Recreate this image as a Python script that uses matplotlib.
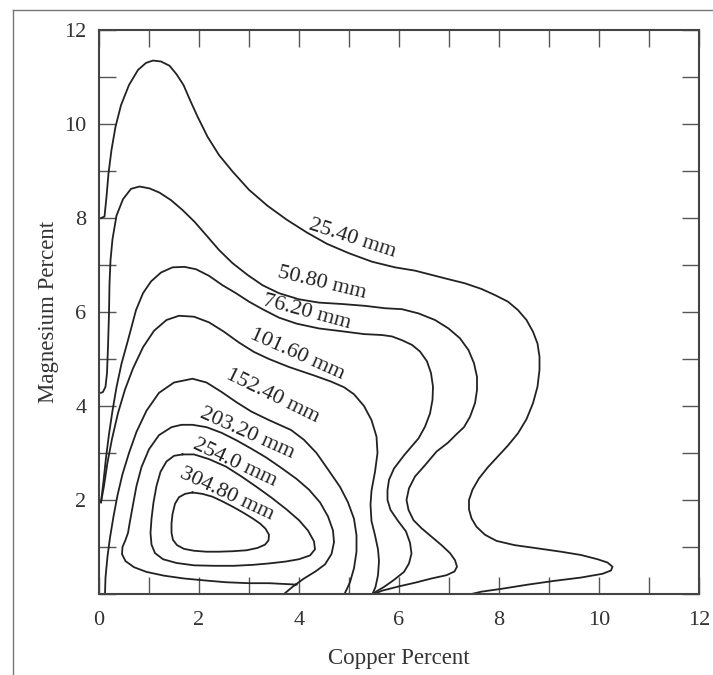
import matplotlib
matplotlib.use("Agg")
import matplotlib.pyplot as plt
from matplotlib.lines import Line2D

plt.rcParams['font.family'] = ['Liberation Serif', 'DejaVu Serif']

# contour traces, copper % (x) and magnesium % (y)
cu_25 = [0.04, 0.11, 0.15, 0.19, 0.25, 0.33, 0.44, 0.6, 0.78, 0.94, 1.08, 1.24, 1.41, 1.55, 1.69,
         1.82, 1.97, 2.17, 2.4, 2.67, 3.0, 3.37, 3.76, 4.16, 4.56, 5.0, 5.46, 5.92, 6.32, 6.65,
         6.98, 7.32, 7.65, 7.92, 8.18, 8.38, 8.55, 8.68, 8.77, 8.81, 8.81, 8.77, 8.68, 8.55,
         8.38, 8.18, 7.98, 7.78, 7.6, 7.47, 7.4, 7.4, 7.45, 7.55, 7.72, 7.95, 8.31, 8.78,
         9.24, 9.64, 9.97, 10.17, 10.27, 10.24, 10.07, 9.64, 9.11, 8.58, 8.05, 7.65, 7.45]
mg_25 = [8.0, 8.03, 8.45, 8.95, 9.45, 9.94, 10.4, 10.83, 11.15, 11.3, 11.35, 11.33, 11.24, 11.06,
         10.83, 10.51, 10.16, 9.73, 9.34, 8.99, 8.6, 8.26, 7.96, 7.69, 7.45, 7.25, 7.07, 6.95,
         6.88, 6.79, 6.7, 6.61, 6.49, 6.36, 6.22, 6.04, 5.83, 5.58, 5.33, 5.05, 4.77, 4.41, 4.06,
         3.72, 3.42, 3.16, 2.93, 2.7, 2.46, 2.22, 2.0, 1.8, 1.61, 1.43, 1.26, 1.13, 1.04,
         0.97, 0.9, 0.83, 0.74, 0.67, 0.58, 0.5, 0.43, 0.35, 0.28, 0.2, 0.11, 0.05, 0.0]

cu_50 = [0.04, 0.08, 0.13, 0.16, 0.18, 0.2, 0.21, 0.23, 0.27, 0.35, 0.48, 0.64, 0.81, 1.01, 1.21,
         1.44, 1.67, 1.91, 2.14, 2.4, 2.67, 2.97, 3.27, 3.6, 4.0, 4.4, 4.86, 5.33, 5.72, 6.06,
         6.39, 6.72, 6.99, 7.22, 7.39, 7.5, 7.56, 7.56, 7.52, 7.42, 7.3, 7.15, 6.98, 6.75, 6.52,
         6.32, 6.2, 6.15, 6.19, 6.29, 6.45, 6.65, 6.85, 7.02, 7.12, 7.16, 7.11, 6.95, 6.65,
         6.32, 5.99, 5.66, 5.5]
mg_50 = [4.28, 4.3, 4.41, 4.7, 5.26, 5.97, 6.6, 7.1, 7.55, 8.05, 8.4, 8.62, 8.67, 8.63, 8.54,
         8.38, 8.17, 7.92, 7.64, 7.32, 7.04, 6.79, 6.57, 6.4, 6.27, 6.2, 6.17, 6.13, 6.08, 6.06,
         5.97, 5.83, 5.65, 5.44, 5.19, 4.91, 4.62, 4.34, 4.06, 3.77, 3.55, 3.4, 3.22, 3.03, 2.74,
         2.5, 2.25, 2.0, 1.79, 1.57, 1.4, 1.22, 1.04, 0.87, 0.72, 0.58, 0.48, 0.4, 0.33, 0.24,
         0.16, 0.07, 0.0]

cu_76 = [0.04, 0.09, 0.14, 0.2, 0.27, 0.35, 0.45, 0.58, 0.74, 0.88, 1.04, 1.24, 1.47, 1.71, 1.94,
         2.2, 2.47, 2.74, 3.0, 3.27, 3.6, 3.96, 4.4, 4.86, 5.3, 5.66, 5.86, 6.06, 6.26, 6.42,
         6.56, 6.64, 6.68, 6.67, 6.62, 6.52, 6.39, 6.22, 6.1, 5.9, 5.8, 5.77, 5.77, 5.83, 5.97,
         6.14, 6.22, 6.25, 6.2, 6.1, 5.9, 5.7, 5.54, 5.47]
mg_76 = [1.95, 2.4, 2.9, 3.4, 3.9, 4.4, 4.9, 5.4, 6.04, 6.4, 6.65, 6.84, 6.95, 6.96, 6.91, 6.77,
         6.57, 6.4, 6.22, 6.06, 5.88, 5.75, 5.65, 5.59, 5.53, 5.51, 5.48, 5.4, 5.3, 5.16, 4.95,
         4.7, 4.41, 4.13, 3.84, 3.56, 3.31, 3.1, 2.95, 2.67, 2.43, 2.21, 2.0, 1.79, 1.57, 1.33,
         1.09, 0.86, 0.65, 0.47, 0.3, 0.15, 0.05, 0.0]

cu_101 = [0.04, 0.1, 0.17, 0.26, 0.38, 0.52, 0.68, 0.88, 1.1, 1.35, 1.6, 1.9, 2.2, 2.5, 2.8, 3.1,
          3.4, 3.8, 4.3, 4.64, 4.9, 5.1, 5.3, 5.45, 5.55, 5.57, 5.52, 5.45, 5.43, 5.45, 5.52,
          5.58, 5.6, 5.58, 5.53, 5.47]
mg_101 = [1.95, 2.3, 2.8, 3.3, 3.85, 4.35, 4.8, 5.25, 5.6, 5.83, 5.92, 5.9, 5.78, 5.58, 5.35,
          5.15, 5.0, 4.83, 4.65, 4.52, 4.4, 4.25, 4.0, 3.7, 3.35, 3.0, 2.6, 2.2, 1.9, 1.55, 1.25,
          0.95, 0.7, 0.4, 0.15, 0.0]

cu_152 = [0.12, 0.13, 0.17, 0.22, 0.29, 0.37, 0.47, 0.6, 0.75, 0.95, 1.2, 1.5, 1.87, 2.15, 2.45,
          2.75, 3.05, 3.4, 3.84, 4.1, 4.35, 4.6, 4.82, 4.98, 5.1, 5.15, 5.15, 5.1, 5.02, 4.91]
mg_152 = [0.0, 0.35, 0.8, 1.2, 1.65, 2.1, 2.55, 3.0, 3.45, 3.9, 4.28, 4.5, 4.58, 4.5, 4.3, 4.08,
          3.88, 3.7, 3.49, 3.28, 3.0, 2.62, 2.28, 1.95, 1.6, 1.25, 0.9, 0.55, 0.25, 0.0]

# 203.20 mm: bottom edge, left bump, crest, right side down to the axis
cu_203 = [3.95, 3.4, 3.0, 2.54, 2.1, 1.7, 1.3, 0.95, 0.7, 0.53, 0.46, 0.47, 0.53, 0.58, 0.62,
          0.68, 0.75, 0.85, 1.0, 1.2, 1.45, 1.65, 1.87, 2.15, 2.45, 2.75, 3.05, 3.35, 3.65, 3.95,
          4.2, 4.42, 4.58, 4.68, 4.7, 4.65, 4.52, 4.33, 4.1, 3.88, 3.7]
mg_203 = [0.2, 0.23, 0.23, 0.25, 0.29, 0.33, 0.39, 0.47, 0.57, 0.7, 0.85, 1.0, 1.15, 1.3, 1.55,
          1.9, 2.3, 2.7, 3.08, 3.38, 3.55, 3.6, 3.6, 3.55, 3.43, 3.27, 3.09, 2.9, 2.68, 2.45,
          2.22, 1.95, 1.65, 1.35, 1.1, 0.85, 0.63, 0.48, 0.33, 0.16, 0.0]

cu_254 = [1.67, 1.9, 2.2, 2.54, 2.85, 3.15, 3.45, 3.75, 4.0, 4.18, 4.3, 4.32, 4.22, 4.0, 3.73,
          3.4, 3.07, 2.7, 2.3, 1.9, 1.55, 1.28, 1.12, 1.05, 1.03, 1.05, 1.09, 1.15, 1.23, 1.35,
          1.5, 1.67]
mg_254 = [2.97, 2.97, 2.87, 2.71, 2.5, 2.28, 2.05, 1.8, 1.57, 1.35, 1.12, 0.95, 0.82, 0.74, 0.69,
          0.65, 0.62, 0.6, 0.6, 0.61, 0.66, 0.74, 0.87, 1.05, 1.3, 1.6, 1.95, 2.3, 2.6, 2.82,
          2.94, 2.97]

cu_304 = [1.87, 2.07, 2.27, 2.47, 2.67, 2.87, 3.07, 3.22, 3.33, 3.4, 3.39, 3.32, 3.17, 2.95, 2.67,
          2.4, 2.15, 1.9, 1.7, 1.56, 1.48, 1.45, 1.45, 1.47, 1.52, 1.6, 1.72, 1.87]
mg_304 = [2.16, 2.13, 2.07, 1.97, 1.86, 1.74, 1.61, 1.5, 1.39, 1.26, 1.14, 1.05, 0.98, 0.93, 0.91,
          0.9, 0.9, 0.92, 0.96, 1.04, 1.15, 1.3, 1.5, 1.7, 1.92, 2.06, 2.13, 2.16]

contours = [(cu_25, mg_25), (cu_50, mg_50), (cu_76, mg_76), (cu_101, mg_101),
            (cu_152, mg_152), (cu_203, mg_203), (cu_254, mg_254), (cu_304, mg_304)]

# label text, position and angle along each curve
labels = ['25.40 mm', '50.80 mm', '76.20 mm', '101.60 mm',
          '152.40 mm', '203.20 mm', '254.0 mm', '304.80 mm']
label_x = [5.06, 4.46, 4.15, 3.96, 3.47, 2.97, 2.72, 2.55]
label_y = [7.57, 6.61, 6.0, 5.1, 4.2, 3.42, 2.78, 2.13]
label_rot = [-18, -13.5, -15, -24, -26, -24, -25, -25]

x_ticks = list(range(0, 13))
x_ticklabels = [str(t) if t % 2 == 0 else '' for t in x_ticks]
y_ticks = list(range(0, 13))
y_ticklabels = [str(t) if t % 2 == 0 and t > 0 else '' for t in y_ticks]

fig = plt.figure(figsize=(7.13, 6.75), dpi=100)
ax = fig.add_axes([99 / 713, 81 / 675, 600 / 713, 564 / 675])

for cu, mg in contours:
    ax.plot(cu, mg, color='#222222', lw=1.3, solid_joinstyle='round')

for txt, lx, ly, rot in zip(labels, label_x, label_y, label_rot):
    ax.text(lx, ly, txt, rotation=rot, ha='center', va='center',
            rotation_mode='anchor', fontsize=16, color='#222222')

ax.set_xlim(0, 12)
ax.set_ylim(0, 12)
ax.set_xticks(x_ticks)
ax.set_xticklabels(x_ticklabels)
ax.set_yticks(y_ticks)
ax.set_yticklabels(y_ticklabels)
ax.tick_params(direction='in', length=12, width=1, color='#555555',
               top=True, right=True, labelsize=16, labelcolor='#333333')
ax.tick_params(axis='x', pad=12)
ax.tick_params(axis='y', pad=9)
for sp in ax.spines.values():
    sp.set_color('#444444')
    sp.set_linewidth(1.5)

ax.set_xlabel('Copper Percent', fontsize=16.5, color='#333333')
ax.set_ylabel('Magnesium Percent', fontsize=16.5, color='#333333')
ax.xaxis.set_label_coords(0.5, -0.095)
ax.yaxis.set_label_coords(-0.066, 0.5)

# thin frame along the top and left edges
fig.add_artist(Line2D([13 / 713, 1], [1 - 10 / 675] * 2, transform=fig.transFigure,
                      color='#777777', lw=1))
fig.add_artist(Line2D([13 / 713] * 2, [0, 1 - 10 / 675], transform=fig.transFigure,
                      color='#777777', lw=1))

fig.savefig('out.png', dpi=100)
